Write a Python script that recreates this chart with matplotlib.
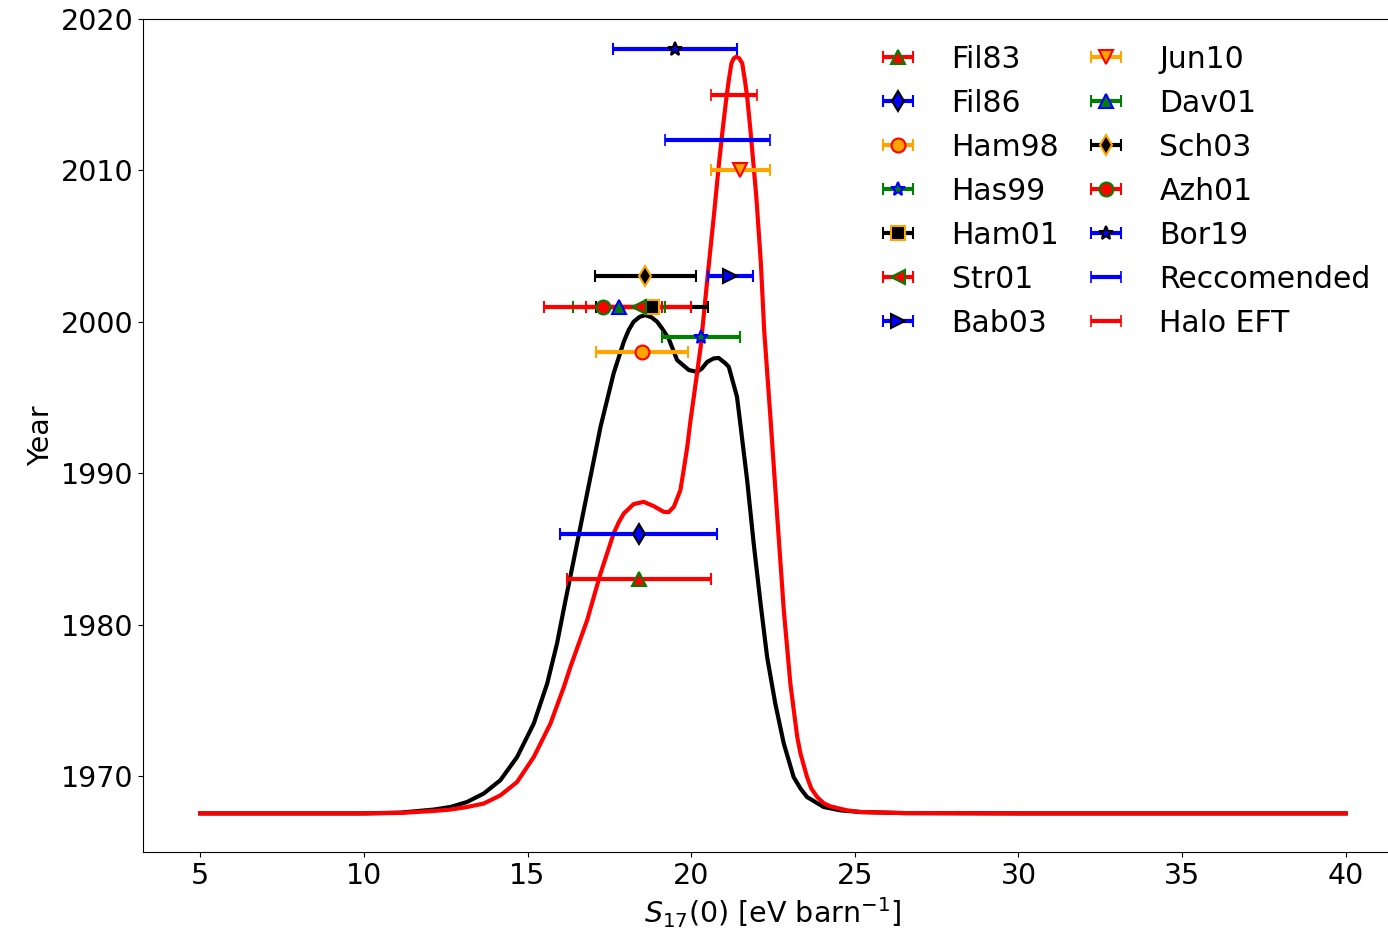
import matplotlib
matplotlib.use("Agg")
import matplotlib.pyplot as plt

# measurements: S17(0) value, symmetric error, year
labels = ["Fil83", "Fil86", "Ham98", "Has99", "Ham01", "Str01", "Bab03",
          "Jun10", "Dav01", "Sch03", "Azh01", "Bor19", "Reccomended", "Halo EFT"]
s17 = [18.4, 18.4, 18.5, 20.3, 18.8, 18.4, 21.2, 21.5, 17.8, 18.6, 17.3, 19.5, 20.8, 21.3]
s17_err = [2.2, 2.4, 1.4, 1.2, 1.7, 1.6, 0.7, 0.9, 1.4, 1.55, 1.8, 1.9, 1.6, 0.7]
years = [1983, 1986, 1998, 1999, 2001, 2001, 2003, 2010, 2001, 2003, 2001, 2018, 2012, 2015]

ecolors = ["red", "blue", "orange", "green", "black", "red", "blue",
           "orange", "green", "black", "red", "blue", "blue", "red"]
markers = ["^", "d", "o", "*", "s", "<", ">", "v", "^", "d", "o", "*", None, None]
facecols = ["red", "blue", "orange", "green", "black", "red", "blue",
            "orange", "green", "black", "red", "blue", None, None]
edgecols = ["green", "black", "red", "blue", "orange", "green", "black",
            "red", "blue", "orange", "green", "black", None, None]

# distributions, baseline ~1967.5
black_x = [5.0, 10.0, 11.12, 12.13, 12.64, 13.15, 13.66, 14.17, 14.68, 15.19, 15.60,
           15.90, 16.16, 16.41, 16.82, 17.23, 17.63, 17.94, 18.09, 18.24, 18.43, 18.60,
           18.79, 18.96, 19.11, 19.31, 19.57, 19.93, 20.18, 20.33, 20.49, 20.69, 20.84,
           21.05, 21.15, 21.40, 21.50, 21.71, 21.91, 22.12, 22.32, 22.57, 22.83, 23.13,
           23.34, 23.54, 24.05, 24.56, 25.17, 26.5, 30.0, 40.0]
black_y = [1967.55, 1967.55, 1967.6, 1967.8, 1967.97, 1968.30, 1968.86, 1969.74, 1971.27,
           1973.48, 1976.12, 1978.76, 1981.62, 1984.27, 1988.67, 1993.07, 1996.60,
           1998.69, 1999.46, 2000.01, 2000.34, 2000.45, 2000.30, 2000.01, 1999.57,
           1998.91, 1997.48, 1996.82, 1996.70, 1996.93, 1997.36, 1997.59, 1997.62,
           1997.26, 1997.03, 1995.05, 1993.30, 1989.55, 1985.37, 1981.41, 1977.88,
           1974.80, 1972.16, 1969.95, 1969.19, 1968.63, 1967.97, 1967.75, 1967.64,
           1967.57, 1967.55, 1967.55]

red_x = [5.0, 10.0, 11.12, 12.13, 12.64, 13.15, 13.66, 14.17, 14.68, 15.19, 15.70,
         16.11, 16.31, 16.82, 17.23, 17.63, 17.79, 17.94, 18.24, 18.55, 18.86, 19.16,
         19.31, 19.47, 19.67, 19.77, 19.88, 19.98, 20.08, 20.29, 20.49, 20.69, 20.85,
         20.96, 21.08, 21.15, 21.23, 21.30, 21.38, 21.47, 21.56, 21.64, 21.71, 21.81,
         21.90, 21.99, 22.13, 22.23, 22.42, 22.63, 22.83, 23.03, 23.24, 23.34, 23.54,
         23.67, 23.85, 24.05, 24.25, 24.76, 25.17, 26.5, 30.0, 40.0]
red_y = [1967.55, 1967.55, 1967.58, 1967.71, 1967.80, 1967.97, 1968.20, 1968.74, 1969.62,
         1971.27, 1973.48, 1975.90, 1977.22, 1980.30, 1983.39, 1986.03, 1986.78,
         1987.35, 1987.97, 1988.12, 1987.83, 1987.46, 1987.44, 1987.79, 1988.89,
         1990.21, 1991.75, 1993.51, 1995.05, 1998.36, 2002.76, 2006.94, 2010.47,
         2012.67, 2014.87, 2015.97, 2017.07, 2017.40, 2017.51, 2017.40, 2017.07,
         2015.97, 2014.87, 2012.67, 2010.47, 2008.26, 2003.86, 1999.46, 1993.73,
         1987.13, 1980.96, 1976.12, 1972.60, 1971.50, 1969.95, 1969.19, 1968.63,
         1968.22, 1968.02, 1967.75, 1967.64, 1967.57, 1967.55, 1967.55]

fig = plt.figure(figsize=(13.88, 9.3), dpi=100)
ax = fig.add_axes([143 / 1388, 78 / 930, 1260 / 1388, 833 / 930])

ax.plot(black_x, black_y, color="black", lw=3)
ax.plot(red_x, red_y, color="red", lw=3)

for i, lab in enumerate(labels):
    if markers[i] is None:
        ax.errorbar(s17[i], years[i], xerr=s17_err[i], fmt="none", ecolor=ecolors[i],
                    elinewidth=3, capsize=4, capthick=1.2, label=lab)
    else:
        ax.errorbar(s17[i], years[i], xerr=s17_err[i], fmt=markers[i], ecolor=ecolors[i],
                    mfc=facecols[i], mec=edgecols[i], ms=10, mew=1.5,
                    elinewidth=3, capsize=4, capthick=1.2, label=lab)

ax.set_xlim(3.25, 41.75)
ax.set_ylim(1965, 2020)
ax.set_xticks([5, 10, 15, 20, 25, 30, 35, 40])
ax.tick_params(labelsize=20.5)
ax.set_xlabel(r"$S_{17}(0)$ [eV barn$^{-1}$]", fontsize=20.5)
ax.set_ylabel("Year", fontsize=20.5)

ax.legend(ncol=2, frameon=False, fontsize=21.5, columnspacing=0.55, labelspacing=0.5,
          loc="upper left", bbox_to_anchor=(856 / 1388, 1 - 33 / 930),
          bbox_transform=fig.transFigure, borderaxespad=0)

fig.savefig("out.png", dpi=100)
